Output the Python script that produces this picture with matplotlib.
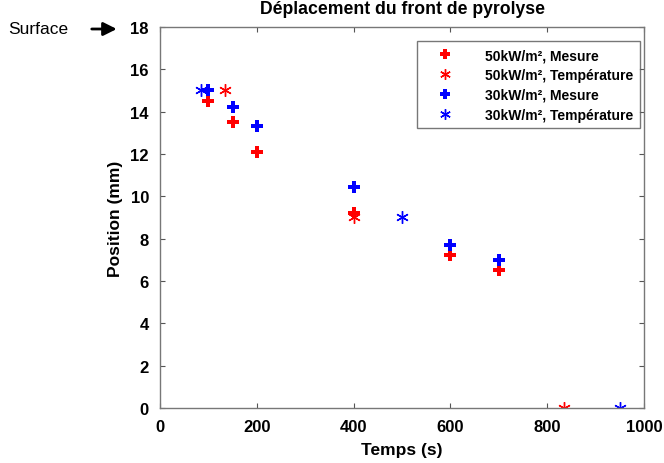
import matplotlib
matplotlib.use("Agg")
import matplotlib.pyplot as plt

# Pyrolysis front position vs time, two heat fluxes
t_50_mes = [100, 150, 200, 400, 600, 700]
p_50_mes = [14.5, 13.5, 12.1, 9.2, 7.25, 6.5]
t_50_temp = [135, 400, 835]
p_50_temp = [15.0, 9.0, 0.0]
t_30_mes = [100, 150, 200, 400, 600, 700]
p_30_mes = [15.0, 14.2, 13.3, 10.45, 7.7, 7.0]
t_30_temp = [85, 500, 950]
p_30_temp = [15.0, 9.0, 0.0]

labels = ["50kW/m², Mesure", "50kW/m², Température",
          "30kW/m², Mesure", "30kW/m², Température"]
xticks = [0, 200, 400, 600, 800, 1000]
yticks = [0, 2, 4, 6, 8, 10, 12, 14, 16, 18]

plt.rcParams['font.family'] = ['Liberation Sans', 'DejaVu Sans']
plt.rcParams['font.weight'] = 'bold'

fig = plt.figure(figsize=(6.64, 4.64), dpi=100)
ax = fig.add_axes([0.241, 0.1185, 0.729, 0.8212])

red = '#ff0000'
blue = '#0000ff'
ax.plot(t_50_mes, p_50_mes, linestyle='none', marker='P', color=red,
        markersize=8, markeredgewidth=0, label=labels[0])
ax.plot(t_50_temp, p_50_temp, linestyle='none', marker=(6, 2, 0), color=red,
        markersize=9, markeredgewidth=1.0, label=labels[1])
ax.plot(t_30_mes, p_30_mes, linestyle='none', marker='P', color=blue,
        markersize=8, markeredgewidth=0, label=labels[2])
ax.plot(t_30_temp, p_30_temp, linestyle='none', marker=(6, 2, 0), color=blue,
        markersize=9, markeredgewidth=1.0, label=labels[3])

ax.set_xlim(0, 1000)
ax.set_ylim(0, 18)
ax.set_xticks(xticks)
ax.set_yticks(yticks)
ax.tick_params(direction='in', length=3.5, labelsize=12, color='#555555',
               top=True, right=True)
ax.tick_params(axis='x', pad=8)
ax.tick_params(axis='y', pad=8)
for lab in ax.get_xticklabels() + ax.get_yticklabels():
    lab.set_fontweight('bold')
for s in ax.spines.values():
    s.set_color('#777777')
    s.set_linewidth(1.0)

ax.set_xlabel('Temps (s)', fontsize=12.5, fontweight='bold', labelpad=6)
ax.set_ylabel('Position (mm)', fontsize=12.5, fontweight='bold', labelpad=5)
ax.set_title('Déplacement du front de pyrolyse', fontsize=12.7,
             fontweight='bold', pad=10)

leg = ax.legend(loc='upper right', bbox_to_anchor=(0.992, 0.963),
                fontsize=10, frameon=True, fancybox=False,
                edgecolor='#555555', borderaxespad=0.0, handletextpad=1.4,
                handlelength=3.0, borderpad=0.5, labelspacing=0.42,
                markerscale=0.85)
leg.get_frame().set_linewidth(1.0)

fig.text(0.012, 1 - 30 / 464, 'Surface', fontsize=12.5, fontweight='normal',
         va='center', ha='left')
ax.annotate('', xy=(0.180, 1 - 30 / 464), xytext=(0.134, 1 - 30 / 464),
            xycoords='figure fraction', textcoords='figure fraction',
            arrowprops=dict(arrowstyle='-|>', color='black', lw=2,
                            mutation_scale=20))

fig.savefig('out.png', dpi=100, facecolor='white')
